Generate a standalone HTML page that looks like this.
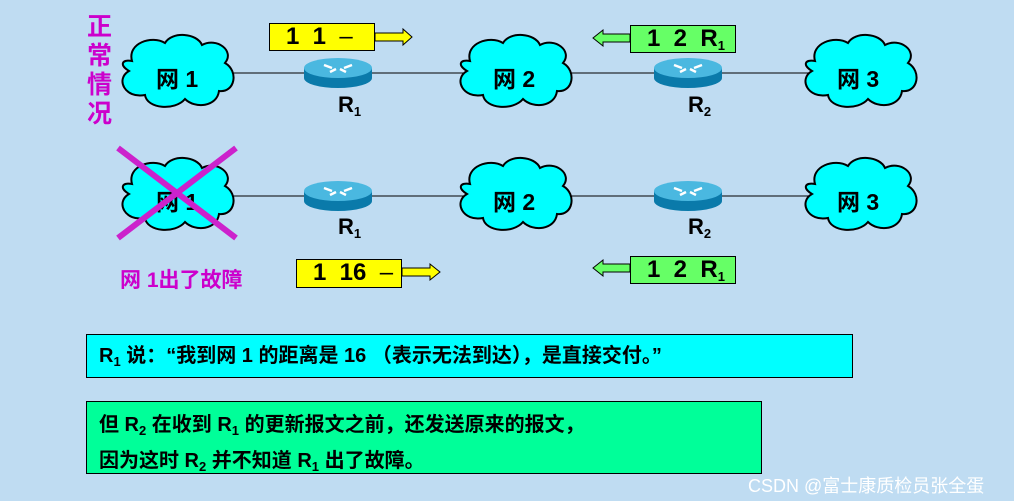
<html><head><style>
body{margin:0;width:1014px;height:501px;background:#bfdcf2;position:relative;overflow:hidden;font-family:"Liberation Sans","Noto Sans CJK SC",sans-serif;font-weight:bold}
.a{position:absolute}
.t{position:absolute;font-size:22px;color:#000}
sub{font-size:13px;vertical-align:-4px}
.box{position:absolute;border:1px solid #000;font-size:24px;box-sizing:border-box;padding-left:16px;line-height:26px}
</style></head><body>
<svg class="a" width="1014" height="501" style="left:0;top:0">
<defs>
<g id="cl"><path d="M-45,-12 C-50,-30 -25,-38 -12,-30 C-5,-42 20,-40 25,-28 C40,-36 58,-22 48,-10 C62,-2 58,20 42,18 C40,34 18,36 8,26 C-2,38 -30,36 -32,22 C-52,26 -62,6 -48,-2 C-58,-8 -55,-14 -45,-12Z" fill="#00ffff" stroke="#000" stroke-width="2"/></g>
<g id="rt"><path d="M-34,0 v10 a34,10 0 0 0 68,0 v-10z" fill="#0a7aaa"/><ellipse cx="0" cy="0" rx="34" ry="10" fill="#4ab8e0"/><path d="M-14,-3 l8,3 M14,-3 l-8,3 M-8,4 l6,-3 M8,4 l-6,-3" stroke="#fff" stroke-width="2.5"/></g>
</defs>
<line x1="230" y1="73" x2="810" y2="73" stroke="#000"/>
<line x1="230" y1="196" x2="810" y2="196" stroke="#000"/>
<use href="#cl" x="177" y="73"/><use href="#cl" x="515" y="73"/><use href="#cl" x="860" y="73"/>
<use href="#cl" x="177" y="196"/><use href="#cl" x="515" y="196"/><use href="#cl" x="860" y="196"/>
<use href="#rt" x="338" y="68"/><use href="#rt" x="688" y="68"/>
<use href="#rt" x="338" y="191"/><use href="#rt" x="688" y="191"/>
<polygon points="375,33 403,33 403,29 412,37 403,45 403,41 375,41" fill="#ffff00" stroke="#000"/>
<polygon points="402,268 430,268 430,264 440,272 430,280 430,276 402,276" fill="#ffff00" stroke="#000"/>
<polygon points="630,34 603,34 603,30 593,38 603,46 603,42 630,42" fill="#66ff66" stroke="#000"/>
<polygon points="630,264 603,264 603,260 593,268 603,276 603,272 630,272" fill="#66ff66" stroke="#000"/>
</svg>
<div class="t" style="left:156px;top:60px;font-size:23px">网 1</div>
<div class="t" style="left:493px;top:60px;font-size:23px">网 2</div>
<div class="t" style="left:837px;top:60px;font-size:23px">网 3</div>
<div class="t" style="left:156px;top:183px;font-size:23px">网 1</div>
<div class="t" style="left:493px;top:183px;font-size:23px">网 2</div>
<div class="t" style="left:837px;top:183px;font-size:23px">网 3</div>
<div class="t" style="left:338px;top:92px">R<sub>1</sub></div>
<div class="t" style="left:688px;top:92px">R<sub>2</sub></div>
<div class="t" style="left:338px;top:214px">R<sub>1</sub></div>
<div class="t" style="left:688px;top:214px">R<sub>2</sub></div>
<svg class="a" width="1014" height="501" style="left:0;top:0"><path d="M118,148 L236,238 M236,148 L118,238" stroke="#cc22cc" stroke-width="6"/></svg>
<div class="a" style="left:87px;top:13px;width:27px;font-size:25px;line-height:29px;color:#cc00cc">正常情况</div>
<div class="a" style="left:120px;top:264px;font-size:21px;color:#cc00cc">网 1出了故障</div>
<div class="box" style="left:269px;top:23px;width:106px;height:28px;background:#ffff00">1 &nbsp;1 &nbsp;<span style="font-weight:normal">–</span></div>
<div class="box" style="left:630px;top:25px;width:106px;height:28px;background:#66ff66">1 &nbsp;2 &nbsp;R<sub>1</sub></div>
<div class="box" style="left:296px;top:259px;width:106px;height:29px;background:#ffff00">1 &nbsp;16 &nbsp;<span style="font-weight:normal">–</span></div>
<div class="box" style="left:630px;top:256px;width:106px;height:28px;background:#66ff66">1 &nbsp;2 &nbsp;R<sub>1</sub></div>
<div class="box" style="left:86px;top:334px;width:767px;height:44px;background:#00ffff;font-size:20px;line-height:42px;padding-left:12px">R<sub>1</sub> 说：“我到网 1 的距离是 16 （表示无法到达），是直接交付。”</div>
<div class="box" style="left:86px;top:401px;width:676px;height:73px;background:#00ff99;font-size:20px;line-height:30px;padding:8px 0 0 12px">但 R<sub>2</sub> 在收到 R<sub>1</sub> 的更新报文之前，还发送原来的报文，<br>因为这时 R<sub>2</sub> 并不知道 R<sub>1</sub> 出了故障。</div>
<div class="a" style="left:748px;top:472px;font-size:18px;font-weight:normal;color:#fff">CSDN @富士康质检员张全蛋</div>
</body></html>
